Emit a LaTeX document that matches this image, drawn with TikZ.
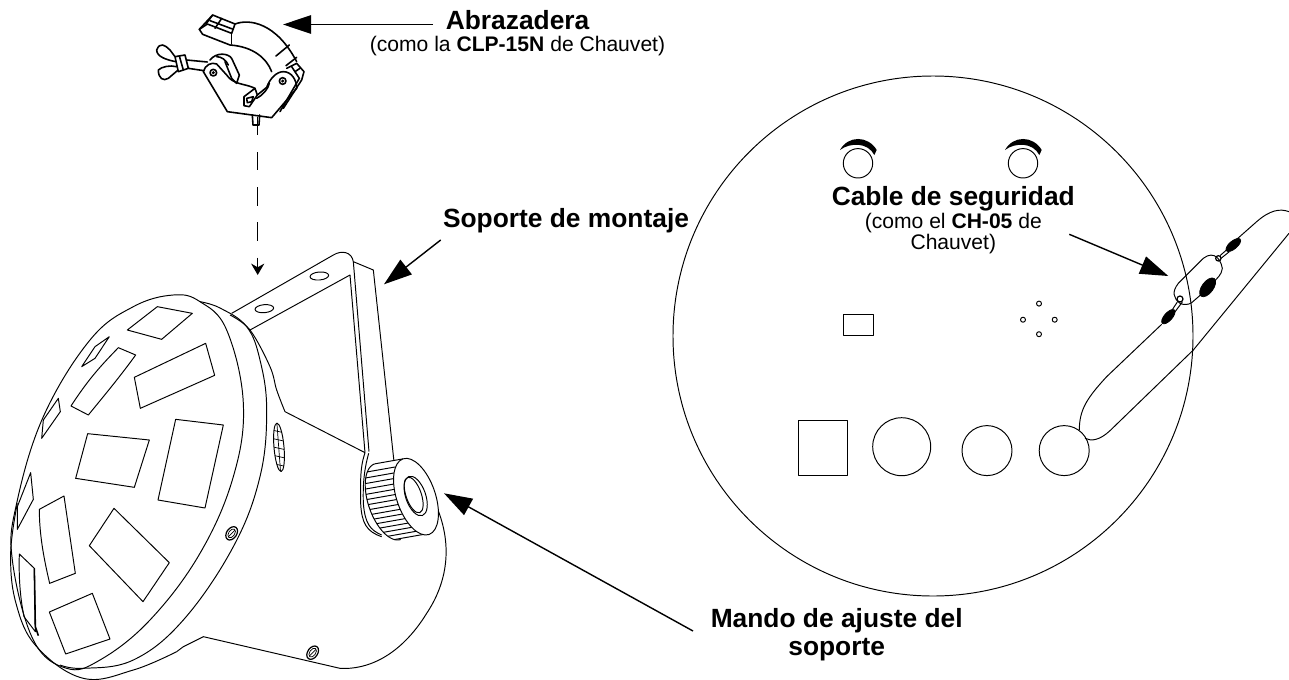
\documentclass[tikz,border=0pt]{standalone}
\usepackage{fontspec}
\setmainfont{Liberation Sans}
\usetikzlibrary{arrows.meta, positioning}
\tikzset{
    outline/.style={
        draw=black,
        line width=0.55pt,
        line join=round
    },
    clampline/.style={
        draw=black,
        line width=0.9pt,
        line join=round,
        line cap=round
    },
    callout/.style={
        draw=black,
        line width=0.8pt,
        -{Triangle[length=16pt,width=10.5pt]}
    },
    droparrow/.style={
        draw=black,
        line width=0.7pt,
        dash pattern=on 10.4pt off 9.6pt,
        -{Stealth[length=6.5pt,width=7.5pt]}
    },
    title/.style={
        font=\bfseries\fontsize{15}{16}\selectfont,
        align=center,
        inner sep=0pt
    },
    subtitle/.style={
        font=\fontsize{12}{12.3}\selectfont,
        align=center,
        inner sep=0pt
    },
    fitting/.style={
        fill=black,
        draw=black,
        line width=0.4pt
    }
}

\begin{document}
\begin{tikzpicture}[x=0.02cm, y=-0.02cm]
\useasboundingbox (0,0) rectangle (1289,680);

% Clamp
\begin{scope}[shift={(120,0)}, scale=1/3]
% jaw
\draw[clampline] (238,88) -- (278,45) -- (345,72) .. controls (390,55) and (470,70) .. (530,185);
\draw[clampline] (238,88) -- (248,103) -- (330,135) .. controls (400,140) and (440,175) .. (455,215);
\draw[clampline] (345,72) -- (335,100) -- (262,72) -- (238,88);
\draw[clampline] (278,45) -- (258,72);
\draw[clampline] (305,55) -- (285,85);
\draw[clampline] (270,62) -- (340,88);
\draw[clampline] (335,100) -- (335,132);
\draw[clampline] (468,168) -- (508,135);
\draw[clampline] (498,197) -- (530,172);
% left lobe
\draw[clampline] (250,215) .. controls (255,195) and (275,185) .. (290,192) -- (320,225) .. controls (340,255) and (375,250) .. (405,265);
\draw[clampline] (270,180) .. controls (290,155) and (325,160) .. (335,175) -- (358,225) -- (350,250) -- (335,235) -- (315,185);
\draw[clampline] (290,170) .. controls (305,170) and (318,180) .. (325,195);
\draw[clampline] (250,215) -- (322,335) -- (455,353) -- (530,265);
% notch
\draw[clampline] (405,265) -- (412,285) -- (388,320) -- (372,317) -- (372,290) -- cycle;
\draw[clampline] (380,295) -- (400,290) -- (395,305) -- (382,308) -- cycle;
\draw[clampline] (410,295) .. controls (430,285) and (445,265) .. (448,250);
% right lobe
\draw[clampline] (412,285) -- (440,262) .. controls (450,235) and (470,215) .. (490,215) .. controls (515,215) and (530,240) .. (530,265);
\draw[clampline] (500,205) -- (530,190) -- (552,215) -- (545,240) -- (490,325);
\draw[clampline] (515,200) -- (538,235) -- (480,335);
\draw[clampline] (525,215) -- (540,205);
\draw[clampline] (280,218) circle (10);
\draw[clampline] (488,243) circle (10);
\fill (280,218) circle (5);
\fill (488,243) circle (5);
% wing screw
\draw[clampline] (200,180) -- (262,186);
\draw[clampline] (205,205) -- (252,212);
\draw[clampline] (165,170) -- (195,165) -- (205,205) -- (175,215) -- cycle;
\draw[clampline] (178,168) -- (190,210);
\draw[clampline] (165,170) -- (150,150) .. controls (135,135) and (120,125) .. (110,150) .. controls (110,170) and (140,180) .. (168,185);
\draw[clampline] (170,200) .. controls (150,195) and (125,200) .. (115,210) .. controls (115,235) and (130,245) .. (145,235) -- (172,212);
% pin
\draw[clampline] (397,345) -- (399,375) -- (417,375) -- (419,345);
\end{scope}

% Fixture body
\begin{scope}[shift={(0,270)}, scale=1/3]
\draw[outline] plot[smooth cycle, tension=0.65] coordinates {(520,75) (600,95) (680,180) (730,400) (700,620) (600,850) (450,1050) (300,1170) (200,1195) (100,1110) (37,870) (50,700) (130,440) (270,210) (400,110)};
\draw[outline] plot[smooth, tension=0.65] coordinates {(600,95) (660,114) (740,170) (780,270) (800,420) (780,620) (700,830) (550,1050) (400,1170) (250,1195) (180,1185)};
\draw[outline] plot[smooth, tension=0.65] coordinates {(52,700) (32,850) (48,1000) (110,1130) (250,1225) (400,1200) (530,1145)};
\draw[outline] (530,1145) -- (550,1130) -- (610,1100) -- (1020,1195);
% lenses
\draw[outline] (382,180) -- (472,110) -- (577,130) -- (485,208) -- cycle;
\draw[outline] (245,290) -- (285,230) -- (328,200) -- (285,265) -- cycle;
\draw[outline] (355,233) -- (407,255) .. controls (360,320) and (310,380) .. (265,435) -- (213,408) .. controls (270,320) and (310,280) .. (355,233) -- cycle;
\draw[outline] (403,322) -- (617,220) -- (644,316) -- (421,415) -- cycle;
\draw[outline] (125,505) -- (130,450) -- (175,385) -- (181,425) -- cycle;
\draw[outline] (263,491) -- (448,510) -- (403,652) -- (227,625) -- cycle;
\draw[outline] (527,448) -- (670,465) -- (615,714) -- (474,690) -- cycle;
\draw[outline] (52,778) -- (52,710) -- (92,608) -- (100,688) -- cycle;
\draw[outline] (118,718) -- (192,678) -- (226,910) -- (149,940) .. controls (130,860) and (118,790) .. (118,718) -- cycle;
\draw[outline] (342,715) -- (508,878) -- (429,995) -- (268,827) -- cycle;
\draw[outline] (58,852) -- (103,895) -- (106,1085) -- (72,1040) .. controls (60,980) and (56,920) .. (58,852) -- cycle;
\draw[outline, line width=0.9pt] (103,895) -- (106,1070) -- (115,1097);
\draw[outline] (148,1026) -- (277,970) -- (330,1107) -- (197,1152) -- cycle;
\end{scope}

% Mounting bracket, vent, screws
\begin{scope}[shift={(220,260)}, scale=1/3]
\draw[outline] plot[smooth, tension=0.6] coordinates {(30,165) (90,210) (150,320) (170,390) (195,455)};
\draw[outline] (195,455) -- (435,578);
\draw[outline] (35,160) -- (340,-15) .. controls (365,-30) and (395,-25) .. (400,5);
\draw[outline] (90,210) -- (390,45) -- (435,578);
\draw[outline] (400,5) -- (447,575);
\draw[outline] (400,5) -- (460,30) -- (522,605);
\draw[outline] (298,48) ellipse [x radius=28, y radius=12, rotate=5];
\draw[outline] (133,146) ellipse [x radius=28, y radius=12, rotate=5];
\draw[outline] (177,562) ellipse [x radius=15, y radius=73, rotate=5];
\begin{scope}
\clip (177,562) ellipse [x radius=15, y radius=73, rotate=5];
\foreach \hy in {510,535,560,585,610} {
    \draw[outline, line width=0.4pt] (155,\hy) -- (200,\hy+10);
}
\draw[outline, line width=0.4pt] (170,480) -- (182,640);
\end{scope}
\foreach \sx/\sy in {35/820, 278/1178} {
    \draw[outline, line width=0.7pt] (\sx,\sy) ellipse [x radius=15, y radius=22, rotate=-35];
    \draw[outline, line width=0.4pt] (\sx,\sy) ellipse [x radius=9, y radius=15, rotate=-35];
    \draw[outline, line width=0.4pt] (\sx-10,\sy+10) -- (\sx+10,\sy-10);
}
% body rim behind knob
\draw[outline] (360,1225) .. controls (440,1230) and (540,1190) .. (620,1060) .. controls (680,970) and (700,860) .. (650,740);
\end{scope}

% Adjustment knob
\begin{scope}[shift={(350,440)}, scale=1/3]
\draw[outline] (45,38) .. controls (35,70) and (30,90) .. (32,190) .. controls (35,250) and (50,275) .. (95,290);
\draw[outline] (56,40) .. controls (45,80) and (38,120) .. (40,190) .. controls (45,250) and (60,270) .. (95,285);
\fill[white] (74,72) -- (159,57) -- (237,283) -- (152,298) -- (60,200) -- cycle;
\draw[outline, fill=white] plot[domain=90:270, samples=40] ({113+58*cos(\x)*.945+120*sin(\x)*.326}, {185-58*cos(\x)*.326+120*sin(\x)*.945});
\foreach \s in {-1,-.87,...,1.02} {
    \pgfmathsetmacro{\c}{-sqrt(max(0,1-\s*\s))}
    \draw[outline] ({113+58*\c*.945+120*\s*.326}, {185-58*\c*.326+120*\s*.945}) -- ({198+58*\c*.945+120*\s*.326}, {170-58*\c*.326+120*\s*.945});
}
\draw[outline, fill=white] (198,170) ellipse [x radius=58, y radius=120, rotate=19];
\draw[outline] (197,168) ellipse [x radius=30, y radius=62, rotate=19];
\draw[outline] (191,165) ellipse [x radius=23, y radius=56, rotate=19];
\end{scope}

% Rear panel
\draw[outline] (933,336) circle (260);
\draw[outline] (798.3,420) rectangle (847.7,475.4);
\draw[outline] (843.3,314.5) rectangle (873,335.8);
\draw[outline] (901.7,446.7) circle (29);
\draw[outline] (987,450.6) circle (25);
\draw[outline] (1064.2,450.6) circle (25);
\foreach \dotx/\doty in {1039/303.6, 1023/319.7, 1054.7/319.7, 1039/334.2} {
    \draw[outline] (\dotx,\doty) circle (2.5);
}
% Hanging eyes
\foreach \eyex in {858,1023} {
    \draw[outline] (\eyex,163.3) circle (14.7);
    \fill (\eyex-18,163.3-13.3) .. controls (\eyex-10,163.3-28) and (\eyex+10,163.3-28) .. (\eyex+18.7,163.3-13.3) -- (\eyex+16.3,163.3-8.3) .. controls (\eyex+10,163.3-21) and (\eyex-8,163.3-21) .. cycle;
}

% Safety cable
\begin{scope}[shift={(1020,190)}, scale=1/3]
\draw[outline] (425,403) -- (260,560) .. controls (200,625) and (178,660) .. (178,720);
\draw[outline] (650,148) -- (710,95) .. controls (750,60) and (780,55) .. (807,65);
\draw[outline] (807,130) -- (520,480) -- (270,722) .. controls (240,750) and (215,755) .. (195,745);
\draw[outline] (480,340) .. controls (460,325) and (455,305) .. (475,280) -- (540,215) .. controls (570,180) and (600,195) .. (607,235) .. controls (605,255) and (590,265) .. (585,272);
\draw[outline] (545,312) -- (515,338) .. controls (505,345) and (490,345) .. (480,340);
\draw[outline, line width=0.7pt] (480,327) circle (9);
\draw[outline, line width=0.7pt] (595,205) circle (8);
\draw[outline] (472,336) -- (455,362);
\draw[outline] (487,336) -- (463,368);
\draw[outline] (600,197) -- (625,175);
\draw[outline] (603,205) -- (628,185);
\draw[fitting] (445,380) ellipse [x radius=27, y radius=12, rotate=48];
\draw[fitting] (640,165) ellipse [x radius=27, y radius=12, rotate=40];
\draw[fitting] (563,292) ellipse [x radius=33, y radius=17, rotate=53];
\end{scope}

% Labels
\node[title, anchor=base] (abrazadera) at (517.6,29.3) {Abrazadera};
\node[subtitle, anchor=base] (abrazadera_sub) at (517.5,51.7) {(como la \textbf{CLP-15N} de Chauvet)};
\node[title, anchor=base] (soporte) at (566,227) {Soporte de montaje};
\node[title] (mando) at (836.7,634.9) {Mando de ajuste del\\soporte};
\node[title, anchor=base] (cable) at (953.3,205) {Cable de seguridad};
\node[subtitle] (cable_sub) at (953.3,233.6) {(como el \textbf{CH-05} de\\Chauvet)};

% Pointers
\coordinate (abrazadera_start) at (433,24.5);
\coordinate (abrazadera_tip) at (283,24.5);
\coordinate (soporte_start) at (440.7,240);
\coordinate (soporte_tip) at (384,284.3);
\coordinate (mando_start) at (693,631);
\coordinate (mando_tip) at (444,493.3);
\coordinate (cable_start) at (1069.3,234.3);
\coordinate (cable_tip) at (1168.3,276);
\coordinate (pin_end) at (257.7,117);
\coordinate (bracket_top) at (257.7,275);
\draw[callout] (abrazadera_start) -- (abrazadera_tip);
\draw[callout] (soporte_start) -- (soporte_tip);
\draw[callout] (mando_start) -- (mando_tip);
\draw[callout] (cable_start) -- (cable_tip);
\draw[droparrow] (pin_end) -- (bracket_top);
\end{tikzpicture}
\end{document}
